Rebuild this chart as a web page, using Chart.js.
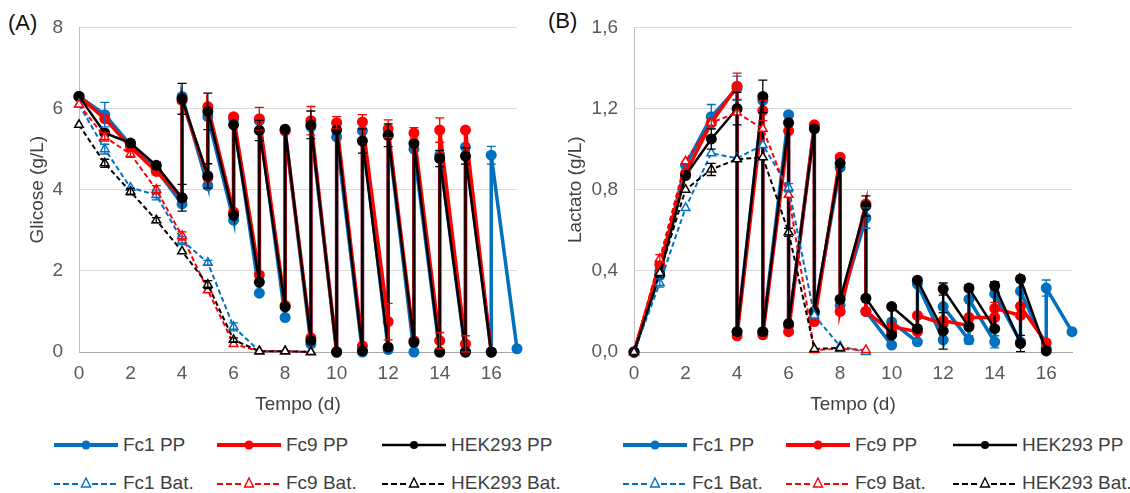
<!DOCTYPE html>
<html>
<head>
<meta charset="utf-8">
<script src="https://cdn.jsdelivr.net/npm/chart.js@4.4.1/dist/chart.umd.min.js"></script>
<style>
  body { margin: 0; background: #fff; font-family: "Liberation Sans", Arial, sans-serif; }
  #page { position: relative; width: 1130px; height: 493px; overflow: hidden; }
  canvas { position: absolute; top: 0; }
  .tag { position: absolute; font-size: 22px; color: #111; }
  .leg { position: absolute; display: flex; align-items: center; height: 24px; font-size: 19px; color: #404040; white-space: nowrap; }
  .leg svg { margin-right: 5px; }
</style>
</head>
<body>
<div id="page">
  <div class="tag" style="left:8px; top:10px;">(A)</div>
  <div class="tag" style="left:548px; top:8px;">(B)</div>
  <canvas id="chartA" width="560" height="420" style="left:0px"></canvas>
  <canvas id="chartB" width="575" height="420" style="left:540px"></canvas>
</div>
<script>
// days: perfusion (PP) has two samples per day from day 4 (before / after medium exchange)
const ppDays = [0, 1, 2, 3, 4, 4, 5, 5, 6, 6, 7, 7, 8, 8, 9, 9, 10, 10, 11, 11, 12, 12, 13, 13, 14, 14, 15, 15, 16];
const ppDaysFc1 = [0, 1, 2, 3, 4, 4, 5, 5, 6, 6, 7, 7, 8, 8, 9, 9, 10, 10, 11, 11, 12, 12, 13, 13, 14, 14, 15, 15, 16, 16, 17];
const batDays = [0, 1, 2, 3, 4, 5, 6, 7, 8, 9];
const batDaysHekLac = [0, 1, 2, 3, 4, 5, 6, 7, 8];

const labels = ['Fc1 PP', 'Fc9 PP', 'HEK293 PP', 'Fc1 Bat.', 'Fc9 Bat.', 'HEK293 Bat.'];
const colors = ['#0070C0', '#FF0000', '#000000', '#0070C0', '#FF0000', '#000000'];

// Glucose (g/L)
const glcFc1PP = [6.3, 5.85, 5.1, 4.5, 3.65, 6.3, 4.1, 5.8, 3.25, 5.75, 1.45, 5.7, 0.85, 5.45, 0.2, 5.55, 0, 5.3, 0, 5.45, 0.06, 5.35, 0, 5.0, 0, 4.85, 0, 5.05, 0, 4.85, 0.08];
const glcFc9PP = [6.3, 5.75, 5.05, 4.45, 3.8, 6.2, 4.3, 6.05, 3.45, 5.8, 1.9, 5.75, 1.15, 5.45, 0.35, 5.7, 0, 5.65, 0.15, 5.67, 0.75, 5.5, 0.28, 5.4, 0.28, 5.47, 0.2, 5.47, 0];
const glcHekPP = [6.3, 5.4, 5.15, 4.6, 3.8, 6.24, 4.34, 5.93, 3.37, 5.6, 1.72, 5.46, 1.11, 5.49, 0.28, 5.6, 0, 5.47, 0.03, 5.2, 0.12, 5.34, 0.24, 5.14, 0, 4.77, 0, 4.83, 0];
const glcFc1Bat = [6.1, 5.0, 4.05, 3.87, 2.75, 2.2, 0.62, 0.02, 0.02, 0];
const glcFc9Bat = [6.1, 5.3, 4.88, 4.0, 2.86, 1.52, 0.2, 0.02, 0.02, 0];
const glcHekBat = [5.6, 4.65, 3.95, 3.25, 2.48, 1.66, 0.3, 0.02, 0.02, 0];

const glcFc1PPErr = [0, 0.3, 0, 0, 0, 0, 0, 0, 0, 0, 0, 0, 0, 0, 0, 0, 0, 0, 0, 0, 0, 0, 0, 0, 0, 0, 0, 0, 0, 0.22, 0];
const glcFc9PPErr = [0, 0, 0, 0, 0, 0, 0, 0, 0, 0, 0, 0.28, 0, 0, 0, 0.35, 0, 0.15, 0, 0.18, 0.45, 0.22, 0, 0.13, 0.2, 0.3, 0.2, 0, 0];
const glcHekPPErr = [0, 0, 0, 0.08, 0.33, 0.38, 0.3, 0.45, 0, 0, 0, 0.25, 0, 0, 0, 0.34, 0, 0, 0, 0.3, 0, 0.28, 0, 0, 0, 0.2, 0, 0.2, 0];
const glcFc1BatErr = [0, 0.12, 0, 0.12, 0.1, 0.06, 0.1, 0, 0, 0];
const glcFc9BatErr = [0, 0.1, 0.08, 0.1, 0.1, 0, 0, 0, 0, 0];
const glcHekBatErr = [0, 0.1, 0.08, 0.06, 0, 0.1, 0.05, 0, 0, 0];

// Lactate (g/L)
const lacFc1PP = [0, 0.4, 0.92, 1.16, 1.3, 0.1, 1.24, 0.1, 1.17, 0.13, 1.11, 0.19, 0.91, 0.23, 0.66, 0.2, 0.034, 0.148, 0.05, 0.335, 0.06, 0.224, 0.06, 0.26, 0.05, 0.286, 0.05, 0.3, 0.018, 0.315, 0.1];
const lacFc9PP = [0, 0.43, 0.88, 1.13, 1.31, 0.08, 1.19, 0.085, 1.09, 0.1, 1.12, 0.15, 0.96, 0.2, 0.73, 0.2, 0.1, 0.125, 0.1, 0.18, 0.14, 0.155, 0.13, 0.17, 0.17, 0.215, 0.18, 0.225, 0.045];
const lacHekPP = [0, 0.38, 0.87, 1.05, 1.2, 0.1, 1.26, 0.1, 1.13, 0.14, 1.1, 0.2, 0.93, 0.26, 0.72, 0.265, 0.083, 0.224, 0.115, 0.354, 0.104, 0.31, 0.124, 0.315, 0.115, 0.327, 0.042, 0.36, 0.005];
const lacFc1Bat = [0, 0.34, 0.71, 0.98, 0.955, 1.02, 0.81, 0.18, 0.028, 0];
const lacFc9Bat = [0, 0.46, 0.94, 1.13, 1.18, 1.1, 0.775, 0.01, 0.016, 0.01];
const lacHekBat = [0, 0.39, 0.8, 0.9, 0.95, 0.96, 0.59, 0.015, 0.02];

const lacFc1PPErr = [0, 0, 0, 0.06, 0.06, 0, 0, 0, 0, 0, 0, 0, 0, 0, 0.05, 0, 0, 0, 0, 0, 0, 0, 0.02, 0, 0.03, 0, 0, 0, 0, 0.04, 0];
const lacFc9PPErr = [0, 0, 0, 0, 0.065, 0, 0.05, 0, 0, 0, 0, 0, 0, 0, 0, 0, 0, 0, 0, 0, 0, 0, 0, 0, 0, 0.03, 0, 0, 0];
const lacHekPPErr = [0, 0, 0, 0.05, 0.08, 0, 0.08, 0, 0, 0, 0, 0, 0, 0, 0.05, 0, 0, 0, 0, 0, 0.09, 0.03, 0, 0.015, 0, 0.02, 0.04, 0.015, 0];
const lacFc1BatErr = [0, 0.02, 0, 0, 0, 0, 0.02, 0, 0, 0];
const lacFc9BatErr = [0, 0.02, 0, 0, 0, 0, 0, 0, 0, 0];
const lacHekBatErr = [0, 0, 0, 0.03, 0, 0, 0.02, 0, 0];

const glcTicks = [0, 2, 4, 6, 8];
const lacTicks = [0, 0.4, 0.8, 1.2, 1.6];
const dayTicks = [0, 2, 4, 6, 8, 10, 12, 14, 16];

const FONT = '"Liberation Sans", Arial, sans-serif';

function toPoints(xs, ys) {
  return ys.map((y, i) => ({ x: xs[i], y: y }));
}

// error bars drawn with the chart's own y scale
const errorBars = {
  id: 'errorBars',
  afterDatasetsDraw(chart) {
    const ctx = chart.ctx;
    const ys = chart.scales.y;
    chart.data.datasets.forEach((ds, i) => {
      if (!ds.errors) return;
      const meta = chart.getDatasetMeta(i);
      ctx.save();
      ctx.strokeStyle = ds.borderColor;
      ctx.lineWidth = 1.3;
      ds.data.forEach((p, j) => {
        const e = ds.errors[j];
        if (!e) return;
        const x = meta.data[j].x;
        const top = ys.getPixelForValue(p.y + e);
        const bot = ys.getPixelForValue(Math.max(0, p.y - e));
        ctx.beginPath();
        ctx.moveTo(x, top); ctx.lineTo(x, bot);
        ctx.moveTo(x - 4.5, top); ctx.lineTo(x + 4.5, top);
        ctx.moveTo(x - 4.5, bot); ctx.lineTo(x + 4.5, bot);
        ctx.stroke();
      });
      ctx.restore();
    });
  }
};

function makeDataset(i, xs, ys, errs) {
  const pp = i < 3;
  const ds = {
    label: labels[i],
    data: toPoints(xs, ys),
    errors: errs,
    borderColor: colors[i],
    backgroundColor: colors[i],
    showLine: true,
    tension: 0,
    clip: false,
    order: 6 - i
  };
  if (pp) {
    ds.borderWidth = i === 2 ? 2.5 : 3.5;
    ds.pointStyle = 'circle';
    ds.pointRadius = 5.5;
    ds.pointBorderWidth = 0;
    ds.pointBackgroundColor = colors[i];
  } else {
    ds.borderWidth = 2;
    ds.borderDash = [5, 3];
    ds.pointStyle = 'triangle';
    ds.pointRadius = 5;
    ds.pointBorderWidth = 1.5;
    ds.pointBackgroundColor = '#ffffff';
    ds.pointBorderColor = colors[i];
  }
  return ds;
}

function makeChart(id, datasets, yTicks, yTitle, yFmt, yWidth, yTitlePad) {
  const yMax = yTicks[yTicks.length - 1];
  new Chart(document.getElementById(id).getContext('2d'), {
    type: 'scatter',
    data: { datasets: datasets },
    options: {
      responsive: false,
      animation: false,
      devicePixelRatio: 1,
      layout: { padding: { top: 23, right: 43, left: 0, bottom: 0 } },
      plugins: { legend: { display: false }, tooltip: { enabled: false } },
      scales: {
        x: {
          type: 'linear', min: 0, max: 17,
          afterBuildTicks: s => { s.ticks = dayTicks.map(v => ({ value: v })); },
          afterFit: s => { s.height = 68; },
          ticks: { font: { family: FONT, size: 19 }, color: '#595959', padding: 10, autoSkip: false, maxRotation: 0 },
          grid: { color: 'transparent', drawTicks: false },
          border: { color: '#a6a6a6', width: 1 },
          title: { display: true, text: 'Tempo (d)', font: { family: FONT, size: 19 }, color: '#404040', padding: { top: 0, bottom: 4 } }
        },
        y: {
          min: 0, max: yMax,
          afterBuildTicks: s => { s.ticks = yTicks.map(v => ({ value: v })); },
          afterFit: s => { s.width = yWidth; },
          ticks: { font: { family: FONT, size: 19 }, color: '#595959', padding: 16, callback: yFmt },
          grid: { color: '#d9d9d9', drawTicks: false },
          border: { color: '#bfbfbf', width: 1 },
          title: { display: true, text: yTitle, font: { family: FONT, size: 19 }, color: '#404040', padding: { top: yTitlePad, bottom: 0 } }
        }
      }
    },
    plugins: [errorBars]
  });
}

makeChart('chartA', [
  makeDataset(0, ppDaysFc1, glcFc1PP, glcFc1PPErr),
  makeDataset(1, ppDays, glcFc9PP, glcFc9PPErr),
  makeDataset(2, ppDays, glcHekPP, glcHekPPErr),
  makeDataset(3, batDays, glcFc1Bat, glcFc1BatErr),
  makeDataset(4, batDays, glcFc9Bat, glcFc9BatErr),
  makeDataset(5, batDays, glcHekBat, glcHekBatErr)
], glcTicks, 'Glicose (g/L)', v => String(v), 79, 26);

makeChart('chartB', [
  makeDataset(0, ppDaysFc1, lacFc1PP, lacFc1PPErr),
  makeDataset(1, ppDays, lacFc9PP, lacFc9PPErr),
  makeDataset(2, ppDays, lacHekPP, lacHekPPErr),
  makeDataset(3, batDays, lacFc1Bat, lacFc1BatErr),
  makeDataset(4, batDays, lacFc9Bat, lacFc9BatErr),
  makeDataset(5, batDaysHekLac, lacHekBat, lacHekBatErr)
], lacTicks, 'Lactato (g/L)', v => v.toFixed(1).replace('.', ','), 94, 24);

// legends under each panel
function legendSwatch(i) {
  const c = colors[i];
  if (i < 3) {
    const w = i === 2 ? 2.5 : 4;
    const r = i === 2 ? 4 : 4.5;
    return `<svg width="64" height="14"><line x1="0" y1="7" x2="64" y2="7" stroke="${c}" stroke-width="${w}"/><circle cx="32" cy="7" r="${r}" fill="${c}"/></svg>`;
  }
  return `<svg width="64" height="14"><line x1="0" y1="8" x2="26" y2="8" stroke="${c}" stroke-width="2" stroke-dasharray="6,3"/><line x1="38" y1="8" x2="64" y2="8" stroke="${c}" stroke-width="2" stroke-dasharray="6,3"/><polygon points="32,2 36.5,11 27.5,11" fill="#fff" stroke="${c}" stroke-width="1.4"/></svg>`;
}

const legendCols = [[54, 217, 382], [623, 786, 953]];
const legendRows = [445, 483];
const page = document.getElementById('page');
legendCols.forEach(cols => {
  labels.forEach((lab, i) => {
    const d = document.createElement('div');
    d.className = 'leg';
    d.style.left = cols[i % 3] + 'px';
    d.style.top = (legendRows[Math.floor(i / 3)] - 12) + 'px';
    d.innerHTML = legendSwatch(i) + '<span>' + lab + '</span>';
    page.appendChild(d);
  });
});
</script>
</body>
</html>
